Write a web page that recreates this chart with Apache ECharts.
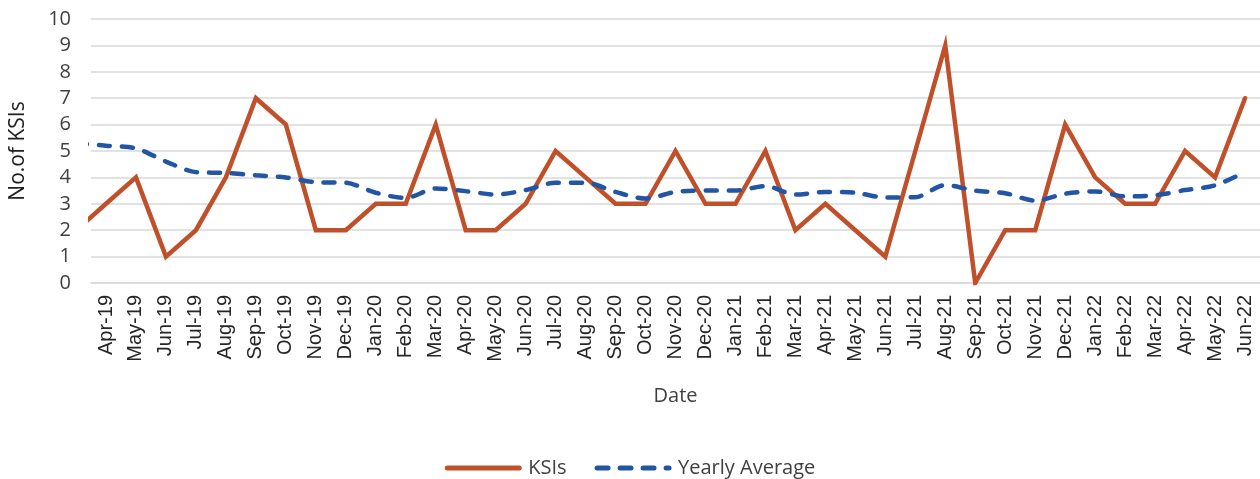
<!DOCTYPE html>
<html>
<head>
<meta charset="utf-8">
<title>KSIs</title>
<script src="https://cdn.jsdelivr.net/npm/echarts@6/dist/echarts.min.js"></script>
<style>
  html, body { margin: 0; padding: 0; background: #fff; }
  #chart { width: 1260px; height: 479px; }
</style>
</head>
<body>
<div id="chart"></div>
<script>
// first month (Mar-19) sits just left of the plot and is clipped, like the original
var months = ['Mar-19',
  'Apr-19', 'May-19', 'Jun-19', 'Jul-19', 'Aug-19', 'Sep-19', 'Oct-19', 'Nov-19', 'Dec-19',
  'Jan-20', 'Feb-20', 'Mar-20', 'Apr-20', 'May-20', 'Jun-20', 'Jul-20', 'Aug-20', 'Sep-20',
  'Oct-20', 'Nov-20', 'Dec-20', 'Jan-21', 'Feb-21', 'Mar-21', 'Apr-21', 'May-21', 'Jun-21',
  'Jul-21', 'Aug-21', 'Sep-21', 'Oct-21', 'Nov-21', 'Dec-21', 'Jan-22', 'Feb-22', 'Mar-22',
  'Apr-22', 'May-22', 'Jun-22'];

var ksis = [2,
  3, 4, 1, 2, 4, 7, 6, 2, 2,
  3, 3, 6, 2, 2, 3, 5, 4, 3,
  3, 5, 3, 3, 5, 2, 3, 2, 1,
  5, 9, 0, 2, 2, 6, 4, 3, 3,
  5, 4, 7];

var yearlyAvg = [5.3,
  5.2, 5.1, 4.6, 4.2, 4.17, 4.08, 4.0, 3.82, 3.8,
  3.42, 3.22, 3.58, 3.48, 3.35, 3.52, 3.8, 3.8, 3.45,
  3.2, 3.45, 3.5, 3.5, 3.67, 3.35, 3.45, 3.42, 3.24,
  3.25, 3.71, 3.5, 3.4, 3.12, 3.38, 3.47, 3.28, 3.32,
  3.52, 3.7, 4.2];

var yTicks = { min: 0, max: 10, step: 1 };

var chart = echarts.init(document.getElementById('chart'));

var option = {
  animation: false,
  textStyle: { fontFamily: 'Liberation Sans, Arial, sans-serif', color: '#404040' },
  grid: { left: 89, right: 0, top: 19, bottom: 196 },
  legend: {
    top: 453,
    left: 'center',
    itemWidth: 72,
    itemHeight: 14,
    itemGap: 28,
    itemStyle: { color: 'rgba(0,0,0,0)', borderWidth: 0 },
    lineStyle: { width: 5, cap: 'round' },
    textStyle: { fontSize: 20, color: '#404040', fontFamily: 'Open Sans, sans-serif', padding: [0, 0, 0, 4] },
    data: ['KSIs', 'Yearly Average']
  },
  xAxis: {
    type: 'category',
    data: months,
    min: 1,
    boundaryGap: true,
    name: 'Date',
    nameLocation: 'middle',
    nameGap: 103,
    nameTextStyle: { fontSize: 20, color: '#404040', fontFamily: 'Open Sans, sans-serif' },
    axisLine: { lineStyle: { color: '#d9d9d9', width: 1.5 } },
    axisTick: { length: 6, lineStyle: { color: '#d9d9d9', width: 1.5 } },
    axisLabel: { interval: 0, rotate: 90, fontSize: 20, margin: 12, color: '#262626' }
  },
  yAxis: {
    type: 'value',
    min: yTicks.min,
    max: yTicks.max,
    interval: yTicks.step,
    name: 'No.of KSIs',
    nameLocation: 'middle',
    nameGap: 62,
    nameTextStyle: { fontSize: 21, color: '#202020', fontFamily: 'Open Sans, sans-serif' },
    axisLine: { show: false },
    axisTick: { show: false },
    axisLabel: { fontSize: 20, margin: 20, color: '#404040', fontFamily: 'Open Sans, sans-serif' },
    splitLine: { lineStyle: { color: '#d9d9d9', width: 1.5 } }
  },
  series: [
    {
      name: 'KSIs',
      type: 'line',
      data: ksis,
      symbol: 'none',
      clip: true,
      color: '#c0502a',
      lineStyle: { width: 4.5, color: '#c0502a', cap: 'round', join: 'miter' }
    },
    {
      name: 'Yearly Average',
      type: 'line',
      data: yearlyAvg,
      symbol: 'none',
      smooth: 0.3,
      clip: true,
      color: '#2255a4',
      lineStyle: { width: 4.5, color: '#2255a4', type: [11, 12], cap: 'round' }
    }
  ]
};

chart.setOption(option);
</script>
</body>
</html>
